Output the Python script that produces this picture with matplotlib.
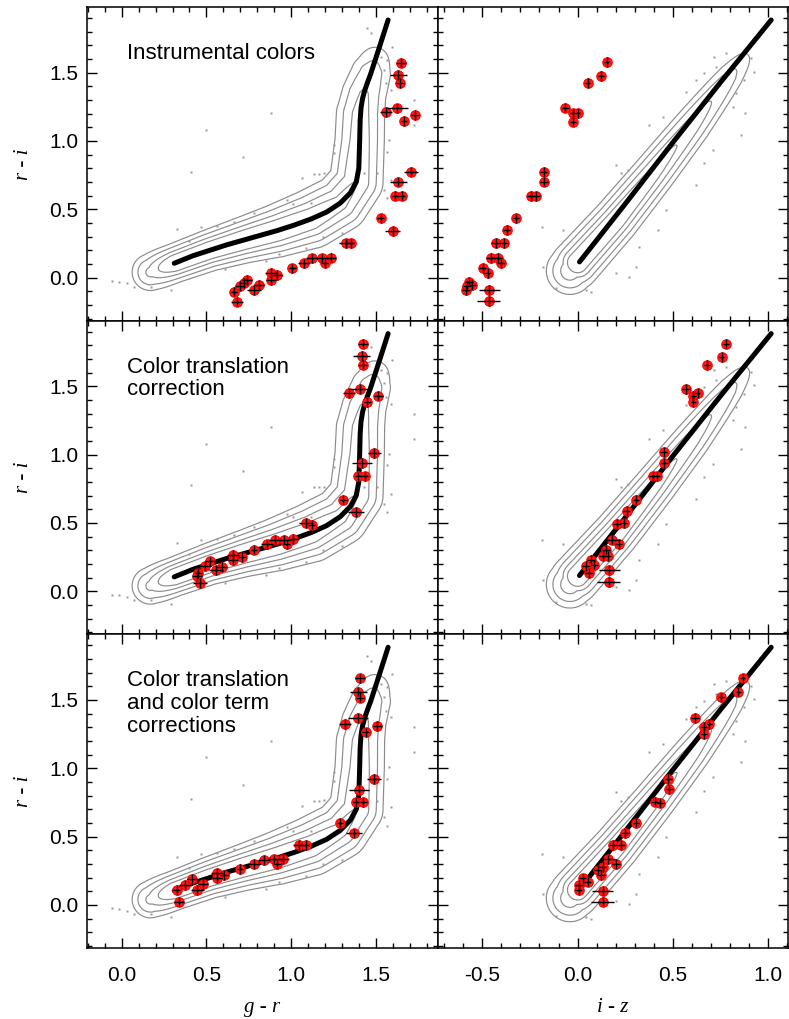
"""Stellar locus colour-colour diagrams: instrumental vs corrected colours."""

import matplotlib

matplotlib.use("Agg")
import matplotlib.pyplot as plt
import numpy as np
from matplotlib.ticker import MultipleLocator

plt.rcParams["axes.unicode_minus"] = False

# reference stellar locus (black line)
LOCUS_GR = [0.31, 0.42, 0.52, 0.62, 0.72, 0.82, 0.92, 1.02, 1.12, 1.21, 1.29, 1.35,
            1.385, 1.40, 1.405, 1.408, 1.413, 1.422, 1.435, 1.452, 1.47, 1.52, 1.573]
LOCUS_RI_GR = [0.105, 0.16, 0.20, 0.24, 0.275, 0.31, 0.345, 0.385, 0.43, 0.48, 0.545, 0.62,
               0.70, 0.80, 1.0, 1.15, 1.24, 1.31, 1.37, 1.43, 1.49, 1.68, 1.885]
LOCUS_IZ = [0.01, 0.25, 0.50, 0.75, 1.015]
LOCUS_RI_IZ = [0.115, 0.54, 0.99, 1.43, 1.885]

# density ridge of the SDSS stars (contours): position, relative density, spread (px)
RIDGE_GR = [0.17, 0.31, 0.52, 0.72, 0.92, 1.12, 1.29, 1.385, 1.405, 1.41, 1.43, 1.47, 1.52, 1.573]
RIDGE_GR_RI = [0.04, 0.105, 0.20, 0.275, 0.345, 0.43, 0.545, 0.70, 1.0, 1.2, 1.34, 1.49, 1.68, 1.885]
RIDGE_GR_AMP = [0.4, 1.0, 1.0, 1.0, 0.95, 0.85, 0.7, 0.6, 0.5, 0.45, 0.38, 0.25, 0.05, 0.01]
RIDGE_GR_W = [9, 8, 8.5, 9.5, 11, 12.5, 12.5, 12, 11.5, 11.5, 11, 11, 10, 8]
RIDGE_IZ = [-0.04, 0.0, 0.2, 0.4, 0.6, 0.8, 0.9, 1.02]
RIDGE_IZ_RI = [0.05, 0.11, 0.42, 0.76, 1.11, 1.47, 1.65, 1.89]
RIDGE_IZ_AMP = [0.5, 1.0, 0.95, 0.75, 0.5, 0.2, 0.035, 0.01]
RIDGE_IZ_W = [11, 10, 9.5, 9, 8.5, 7.5, 6.5, 5]
LEVELS = [0.05, 0.15, 0.35, 0.6]

# scattered SDSS stars outside the contours
OUT_GR = [0.880, 0.496, 0.719, 0.411, 1.067, 1.136, 1.165, 1.195, 0.329, 0.467, -0.055, -0.016,
          0.033, 0.073, 0.171, 0.289, 1.087, 1.254, 1.569, 1.589, 1.726, 1.726, 1.589, 1.451,
          1.470, 1.598, 1.530, 1.559, 0.978, 1.116, 0.663, 0.781, 1.431, 1.549, 1.510, 1.569,
          1.254, 1.579, 1.569, 1.549, 0.560, 0.610, 0.850, 0.930, 1.010, 1.190, 1.300, 0.400]
OUT_GR_RI = [1.202, 1.080, 0.880, 0.776, 0.727, 0.76, 0.76, 0.765, 0.354, 0.373, -0.024, -0.029,
             -0.041, -0.066, -0.066, -0.090, 0.215, 0.971, 0.922, 0.715, 1.300, 1.117, 1.373, 1.824,
             1.788, 1.690, 1.617, 1.422, 0.568, 0.544, 0.410, 0.471, 0.763, 0.641, 0.763, 0.580,
             0.910, 1.007, 1.593, 1.520, 0.380, 0.060, 0.120, 0.170, 0.540, 0.300, 0.330, 0.270]
OUT_IZ = [-0.184, -0.180, -0.114, 0.044, 0.070, -0.079, 0.201, 0.227, 0.262, 0.376, 0.446, 0.568,
          0.621, 0.664, 0.717, 0.778, 0.909, 0.927, 0.874, 0.816, 0.879, 0.857, 0.708, 0.664,
          0.621, 0.463, 0.420, 0.323, 0.306, 0.271, 0.201, 0.830, 0.726]
OUT_IZ_RI = [0.373, 0.080, -0.078, -0.090, -0.102, 0.349, 0.824, 0.763, 0.788, 1.117, 1.178, 1.361,
             1.446, 1.495, 1.617, 1.641, 1.605, 1.507, 1.446, 1.251, 1.202, 1.044, 0.934, 0.837,
             0.678, 0.495, 0.349, 0.227, 0.080, 0.007, 0.032, 1.349, 1.544]

# observed stars (red), one set per panel
INST_GR = [1.647, 1.634, 1.644, 1.628, 1.559, 1.732, 1.667, 1.709, 1.634, 1.614, 1.654, 1.530,
           1.601, 1.323, 1.352, 1.234, 1.185, 1.126, 1.199, 1.077, 1.008, 0.919, 0.880, 0.880,
           0.811, 0.781, 0.742, 0.683, 0.663, 0.700, 0.720]
INST_GR_RI = [1.573, 1.483, 1.422, 1.239, 1.210, 1.190, 1.146, 0.775, 0.702, 0.600, 0.600, 0.434,
              0.342, 0.251, 0.251, 0.146, 0.141, 0.141, 0.105, 0.105, 0.068, 0.020, 0.032, -0.017,
              -0.054, -0.090, -0.017, -0.176, -0.102, -0.061, -0.040]
INST_GR_XERR = [0.03, 0.05, 0.025, 0.06, 0.035, 0.025, 0.02, 0.04, 0.05, 0.02, 0.02, 0.02,
                0.045, 0.04, 0.02, 0.03, 0.04, 0.035, 0.02, 0.035, 0.02, 0.025, 0.035, 0.03,
                0.03, 0.04, 0.03, 0.035, 0.02, 0.03, 0.025]

INST_IZ = [0.152, 0.123, 0.052, -0.064, -0.023, 0.000, -0.023, -0.178, -0.175, -0.245, -0.218,
           -0.323, -0.372, -0.428, -0.384, -0.454, -0.419, -0.402, -0.498, -0.472, -0.568, -0.551,
           -0.585, -0.463, -0.467, -0.580]
INST_IZ_RI = [1.576, 1.476, 1.422, 1.244, 1.202, 1.202, 1.141, 0.775, 0.702, 0.598, 0.598, 0.434,
              0.349, 0.252, 0.252, 0.142, 0.142, 0.105, 0.069, 0.032, -0.029, -0.053, -0.090,
              -0.090, -0.170, -0.060]
INST_IZ_XERR = [0.015, 0.015, 0.015, 0.02, 0.015, 0.015, 0.015, 0.02, 0.02, 0.02, 0.02, 0.015,
                0.02, 0.025, 0.02, 0.025, 0.025, 0.02, 0.02, 0.02, 0.02, 0.02, 0.02, 0.055,
                0.06, 0.02]

TRANS_GR = [1.427, 1.418, 1.423, 1.408, 1.343, 1.516, 1.451, 1.492, 1.418, 1.398, 1.437, 1.309,
            1.384, 1.089, 1.122, 1.014, 0.961, 0.906, 0.975, 0.856, 0.781, 0.709, 0.659, 0.659,
            0.591, 0.557, 0.522, 0.492, 0.453, 0.443, 0.462]
TRANS_GR_RI = [1.812, 1.719, 1.658, 1.481, 1.451, 1.432, 1.385, 1.012, 0.939, 0.841, 0.841, 0.671,
               0.581, 0.500, 0.488, 0.383, 0.378, 0.373, 0.342, 0.342, 0.305, 0.252, 0.264, 0.225,
               0.178, 0.154, 0.219, 0.183, 0.135, 0.110, 0.061]
TRANS_GR_XERR = [0.03, 0.05, 0.025, 0.06, 0.035, 0.025, 0.02, 0.04, 0.06, 0.02, 0.02, 0.02,
                 0.045, 0.04, 0.02, 0.03, 0.04, 0.035, 0.02, 0.035, 0.02, 0.025, 0.035, 0.03,
                 0.03, 0.04, 0.03, 0.035, 0.02, 0.03, 0.04]

TRANS_IZ = [0.778, 0.755, 0.678, 0.568, 0.629, 0.607, 0.607, 0.451, 0.455, 0.393, 0.414, 0.306,
            0.257, 0.207, 0.241, 0.180, 0.215, 0.149, 0.131, 0.157, 0.070, 0.088, 0.044, 0.061,
            0.166, 0.163]
TRANS_IZ_RI = [1.812, 1.715, 1.658, 1.481, 1.451, 1.427, 1.383, 1.020, 0.939, 0.841, 0.841, 0.671,
               0.585, 0.493, 0.500, 0.378, 0.347, 0.305, 0.256, 0.256, 0.232, 0.195, 0.183, 0.135,
               0.154, 0.066]
TRANS_IZ_XERR = [0.015, 0.015, 0.015, 0.02, 0.015, 0.015, 0.015, 0.02, 0.02, 0.02, 0.02, 0.015,
                 0.02, 0.02, 0.02, 0.04, 0.02, 0.02, 0.02, 0.02, 0.02, 0.02, 0.02, 0.02,
                 0.055, 0.06]

TERM_GR = [1.408, 1.398, 1.408, 1.394, 1.319, 1.510, 1.441, 1.490, 1.402, 1.384, 1.427, 1.289,
           1.372, 1.049, 1.087, 0.955, 0.901, 0.842, 0.919, 0.783, 0.699, 0.606, 0.561, 0.561,
           0.482, 0.447, 0.413, 0.374, 0.325, 0.340]
TERM_GR_RI = [1.658, 1.561, 1.517, 1.366, 1.322, 1.309, 1.263, 0.922, 0.841, 0.751, 0.751, 0.602,
              0.524, 0.439, 0.439, 0.334, 0.334, 0.329, 0.300, 0.300, 0.263, 0.219, 0.232, 0.195,
              0.154, 0.110, 0.190, 0.146, 0.110, 0.024]
TERM_GR_XERR = [0.03, 0.05, 0.025, 0.06, 0.035, 0.025, 0.02, 0.04, 0.06, 0.02, 0.02, 0.02,
                0.045, 0.04, 0.02, 0.03, 0.04, 0.035, 0.02, 0.035, 0.02, 0.025, 0.035, 0.03,
                0.03, 0.04, 0.03, 0.035, 0.02, 0.03]

TERM_IZ = [0.865, 0.843, 0.752, 0.617, 0.691, 0.661, 0.664, 0.476, 0.481, 0.407, 0.434, 0.306,
           0.248, 0.184, 0.228, 0.157, 0.201, 0.131, 0.105, 0.123, 0.026, 0.052, 0.009, 0.005,
           0.131, 0.131]
TERM_IZ_RI = [1.658, 1.561, 1.519, 1.366, 1.322, 1.304, 1.251, 0.922, 0.846, 0.756, 0.748, 0.602,
              0.524, 0.439, 0.439, 0.334, 0.300, 0.276, 0.256, 0.219, 0.195, 0.171, 0.146, 0.110,
              0.105, 0.024]
TERM_IZ_XERR = [0.015, 0.015, 0.015, 0.02, 0.015, 0.015, 0.015, 0.02, 0.02, 0.02, 0.02, 0.015,
                0.02, 0.02, 0.02, 0.04, 0.02, 0.02, 0.02, 0.02, 0.02, 0.02, 0.02, 0.02,
                0.055, 0.06]
YERR = 0.035

PANEL_TEXT = ["Instrumental colors", "Color translation\ncorrection",
              "Color translation\nand color term\ncorrections"]
XLIM_GR = (-0.205, 1.868)
XLIM_IZ = (-0.732, 1.103)
YLIM = (-0.315, 1.98)
PX_GR = (169.3, 136.7)  # px per unit in x and y, left column
PX_IZ = (190.7, 136.7)

SANS = ["Liberation Sans", "DejaVu Sans"]
SERIF = ["Liberation Serif", "DejaVu Serif"]


def ridge_density(xlim, ylim, rx, ry, amp, width, scale, n=420):
    """Density tube around a polyline, measured in screen pixels."""
    gx = np.linspace(xlim[0], xlim[1], n)
    gy = np.linspace(ylim[0], ylim[1], n)
    X, Y = np.meshgrid(gx, gy)
    px, py = X * scale[0], Y * scale[1]
    field = np.zeros_like(X)
    for i in range(len(rx) - 1):
        ax_, ay_ = rx[i] * scale[0], ry[i] * scale[1]
        dx, dy = rx[i + 1] * scale[0] - ax_, ry[i + 1] * scale[1] - ay_
        t = np.clip(((px - ax_) * dx + (py - ay_) * dy) / (dx * dx + dy * dy), 0, 1)
        d2 = (px - ax_ - t * dx) ** 2 + (py - ay_ - t * dy) ** 2
        a = amp[i] + t * (amp[i + 1] - amp[i])
        w = width[i] + t * (width[i + 1] - width[i])
        field = np.maximum(field, a * np.exp(-0.5 * d2 / w ** 2))
    return X, Y, field


def style_axes(ax, xlim, show_x, show_y):
    ax.set_xlim(*xlim)
    ax.set_ylim(*YLIM)
    ax.xaxis.set_major_locator(MultipleLocator(0.5))
    ax.xaxis.set_minor_locator(MultipleLocator(0.1))
    ax.yaxis.set_major_locator(MultipleLocator(0.5))
    ax.yaxis.set_minor_locator(MultipleLocator(0.1))
    ax.tick_params(which="both", direction="in", top=True, right=True, width=1.0,
                   labelsize=15, labelbottom=show_x, labelleft=show_y)
    ax.tick_params(which="major", length=7)
    ax.tick_params(which="minor", length=3.5)
    ax.tick_params(axis="x", pad=13)
    ax.tick_params(axis="y", pad=6)
    for lab in ax.get_xticklabels() + ax.get_yticklabels():
        lab.set_family(SANS)
    for s in ax.spines.values():
        s.set_linewidth(1.1)


def draw_panel(ax, field, locus, outliers, stars):
    X, Y, Z = field
    ax.contour(X, Y, Z, levels=LEVELS, colors="#8c8c8c", linewidths=0.85)
    ax.plot(outliers[0], outliers[1], "s", ms=1.6, color="#9a9a9a", mec="none")
    ax.plot(locus[0], locus[1], color="black", lw=3.6, solid_capstyle="round", zorder=3)
    x, y, xe = stars
    ax.plot(x, y, "o", ms=6.8, color="#ff1a1a", mec="#ff0000", mew=0.8, zorder=4)
    ax.errorbar(x, y, xerr=xe, yerr=YERR, fmt="none", ecolor="black", elinewidth=1.0,
                capsize=0, zorder=5)


fig = plt.figure(figsize=(7.89, 10.19), dpi=100)
H = 313.7 / 1019
bottoms = [1 - 320.7 / 1019, 1 - 634.3 / 1019, 1 - 948 / 1019]
left_col = [0.1103, 0.4449]
right_col = [0.5551, 0.4436]

field_gr = ridge_density(XLIM_GR, YLIM, RIDGE_GR, RIDGE_GR_RI, RIDGE_GR_AMP, RIDGE_GR_W, PX_GR)
field_iz = ridge_density(XLIM_IZ, YLIM, RIDGE_IZ, RIDGE_IZ_RI, RIDGE_IZ_AMP, RIDGE_IZ_W, PX_IZ)

stars_gr = [(INST_GR, INST_GR_RI, INST_GR_XERR), (TRANS_GR, TRANS_GR_RI, TRANS_GR_XERR),
            (TERM_GR, TERM_GR_RI, TERM_GR_XERR)]
stars_iz = [(INST_IZ, INST_IZ_RI, INST_IZ_XERR), (TRANS_IZ, TRANS_IZ_RI, TRANS_IZ_XERR),
            (TERM_IZ, TERM_IZ_RI, TERM_IZ_XERR)]

for row in range(3):
    last = row == 2
    axl = fig.add_axes([left_col[0], bottoms[row], left_col[1], H])
    draw_panel(axl, field_gr, (LOCUS_GR, LOCUS_RI_GR), (OUT_GR, OUT_GR_RI), stars_gr[row])
    style_axes(axl, XLIM_GR, last, True)
    axl.set_ylabel("r - i", family=SERIF, style="italic", fontsize=15)
    axl.yaxis.set_label_coords(-0.155, 0.5)
    axl.text(0.113, 0.885, PANEL_TEXT[row], transform=axl.transAxes, ha="left", va="top",
             fontsize=16, family=SANS, linespacing=1.1)

    axr = fig.add_axes([right_col[0], bottoms[row], right_col[1], H])
    draw_panel(axr, field_iz, (LOCUS_IZ, LOCUS_RI_IZ), (OUT_IZ, OUT_IZ_RI), stars_iz[row])
    style_axes(axr, XLIM_IZ, last, False)
    if last:
        axl.set_xlabel("g - r", family=SERIF, style="italic", fontsize=15)
        axl.xaxis.set_label_coords(0.5, -0.16)
        axr.set_xlabel("i - z", family=SERIF, style="italic", fontsize=15)
        axr.xaxis.set_label_coords(0.5, -0.16)

fig.savefig("out.png", dpi=100)
